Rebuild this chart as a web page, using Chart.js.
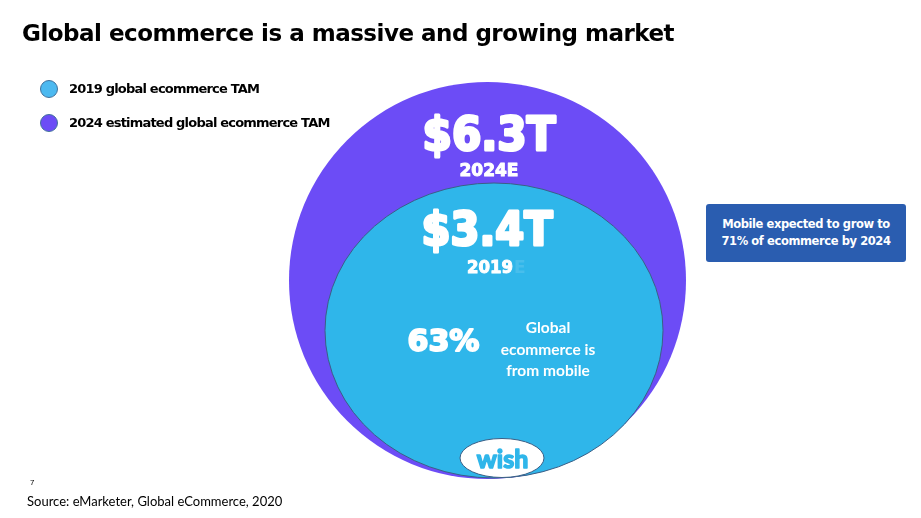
<!DOCTYPE html>
<html>
<head>
<meta charset="utf-8">
<script src="https://cdn.jsdelivr.net/npm/chart.js@4.4.0/dist/chart.umd.min.js"></script>
<style>
    body { margin: 0; background: #fff; }
    #wrap { position: relative; width: 921px; height: 518px; overflow: hidden; font-family: 'DejaVu Sans', sans-serif; }
    #chart { position: absolute; left: 0; top: 0; }
    .title { position: absolute; left: 22px; top: 20px; font-size: 23px; font-weight: bold; color: #000; white-space: nowrap; letter-spacing: -0.5px; }
    .legend { position: absolute; left: 40px; top: 80px; }
    .legend-item { position: relative; height: 34px; font-size: 13px; font-weight: bold; white-space: nowrap; letter-spacing: -0.8px; }
    .legend-item .dot { position: absolute; left: 0; top: 0; width: 16px; height: 16px; border-radius: 50%; border: 1px solid #41719c; }
    .legend-item span.txt { position: absolute; left: 29px; top: 0; line-height: 18px; }
    .callout { position: absolute; left: 706px; top: 204px; width: 200px; height: 58px; background: #2a5db0; border-radius: 3px; color: #fff; font-size: 11.5px; font-weight: bold; text-align: center; line-height: 17px; letter-spacing: -0.4px; }
    .callout div { padding-top: 12px; }
    .pagenum { position: absolute; left: 30px; top: 478px; font-size: 8px; font-family: 'Liberation Sans', sans-serif; }
    .source { position: absolute; left: 27px; top: 493px; font-size: 13px; font-family: 'Lato', sans-serif; white-space: nowrap; }
</style>
</head>
<body>
<div id="wrap">
    <canvas id="chart" width="921" height="518"></canvas>
    <div class="title">Global ecommerce is a massive and growing market</div>
    <div class="legend" id="legend"></div>
    <div class="callout"><div id="callout-text"></div></div>
    <div class="pagenum">7</div>
    <div class="source">Source: eMarketer, Global eCommerce, 2020</div>
</div>
<script>
// data
const years = ['2019', '2024E'];
const tamTrillions = [3.4, 6.3];
const seriesNames = ['2019 global ecommerce TAM', '2024 estimated global ecommerce TAM'];
const seriesColors = ['#2fb6ea', '#6c4cf6'];
const mobileShareNow = 63;
const mobileShare2024 = 71;

// layout in page pixels (the scales below map 1 unit to 1 px)
const circleLayout = [
    { x: 494, y: 330.5, rx: 169, ry: 147.5, valueDy: 62, yearDy: 90 },
    { x: 487.5, y: 280.5, rx: 198.5, ry: 198.5, valueDy: 68, yearDy: 94 }
];
const labelX = 488;

// inner shape is a slightly squashed circle, so draw it as an image point style
function ellipseStyle(rx, ry, fill, stroke) {
    const c = document.createElement('canvas');
    c.width = Math.ceil(rx * 2 + 2);
    c.height = Math.ceil(ry * 2 + 2);
    const g = c.getContext('2d');
    g.beginPath();
    g.ellipse(c.width / 2, c.height / 2, rx, ry, 0, 0, Math.PI * 2);
    g.fillStyle = fill;
    g.fill();
    g.lineWidth = 1;
    g.strokeStyle = stroke;
    g.stroke();
    return c;
}

// legend
const legendEl = document.getElementById('legend');
seriesNames.forEach((name, i) => {
    const color = i === 0 ? '#4cb9f0' : seriesColors[i];
    legendEl.innerHTML += `<div class="legend-item"><div class="dot" style="background:${color}"></div><span class="txt">${name}</span></div>`;
});
document.getElementById('callout-text').innerHTML =
    `Mobile expected to grow to<br>${mobileShare2024}% of ecommerce by 2024`;

// heavy white text, stroked to look like a black-weight face
function heavyText(ctx, text, x, y, maxW, weight) {
    ctx.lineWidth = weight;
    ctx.lineJoin = 'round';
    ctx.strokeText(text, x, y, maxW);
    ctx.fillText(text, x, y, maxW);
}

const labelPlugin = {
    id: 'circleLabels',
    afterDatasetsDraw(chart) {
        const ctx = chart.ctx;
        const xs = chart.scales.x, ys = chart.scales.y;
        ctx.save();
        ctx.fillStyle = '#fff';
        ctx.strokeStyle = '#fff';
        ctx.textBaseline = 'alphabetic';

        // outer (2024E)
        const o = circleLayout[1];
        const oTop = ys.getPixelForValue(o.y) - o.ry;
        ctx.textAlign = 'center';
        ctx.font = 'bold 46px "DejaVu Sans"';
        heavyText(ctx, `$${tamTrillions[1]}T`, labelX + 1, oTop + o.valueDy, 133, 3);
        ctx.font = 'bold 17px "DejaVu Sans"';
        heavyText(ctx, years[1], labelX + 1, oTop + o.yearDy, 59, 1);

        // inner (2019)
        const n = circleLayout[0];
        const nTop = ys.getPixelForValue(n.y) - n.ry;
        ctx.font = 'bold 46px "DejaVu Sans"';
        heavyText(ctx, `$${tamTrillions[0]}T`, labelX - 1, nTop + n.valueDy, 131, 3);
        ctx.font = 'bold 17px "DejaVu Sans"';
        ctx.textAlign = 'left';
        heavyText(ctx, years[0], 467, nTop + n.yearDy, 46, 1);
        ctx.fillStyle = 'rgba(255,255,255,0.12)';
        ctx.fillText('E', 514, nTop + n.yearDy);

        // mobile share
        ctx.fillStyle = '#fff';
        ctx.textAlign = 'center';
        ctx.font = 'bold 31px "DejaVu Sans"';
        heavyText(ctx, `${mobileShareNow}%`, 443.5, 351, 72, 2);
        ctx.font = 'bold 15.5px "Lato"';
        ['Global', 'ecommerce is', 'from mobile'].forEach((line, i) => {
            ctx.fillText(line, 548, 333 + i * 21.5);
        });

        // wish badge
        const bx = xs.getPixelForValue(502), by = ys.getPixelForValue(458);
        ctx.beginPath();
        ctx.ellipse(bx, by, 42, 19.5, 0, 0, Math.PI * 2);
        ctx.fillStyle = '#fff';
        ctx.fill();
        ctx.lineWidth = 1;
        ctx.strokeStyle = '#3b5f86';
        ctx.stroke();
        ctx.fillStyle = '#2fb6ea';
        ctx.strokeStyle = '#2fb6ea';
        ctx.font = 'bold 25px "Lato"';
        heavyText(ctx, 'wish', bx + 0.5, by + 10, 60, 1.5);
        ctx.restore();
    }
};

new Chart(document.getElementById('chart'), {
    type: 'bubble',
    data: {
        datasets: [
            {
                label: seriesNames[0],
                data: [{ x: circleLayout[0].x, y: circleLayout[0].y, r: circleLayout[0].rx, v: tamTrillions[0] }],
                pointStyle: ellipseStyle(circleLayout[0].rx, circleLayout[0].ry, seriesColors[0], '#3b5f86'),
                backgroundColor: seriesColors[0],
                clip: false
            },
            {
                label: seriesNames[1],
                data: [{ x: circleLayout[1].x, y: circleLayout[1].y, r: circleLayout[1].rx, v: tamTrillions[1] }],
                backgroundColor: seriesColors[1],
                borderWidth: 0,
                clip: false
            }
        ]
    },
    options: {
        responsive: false,
        animation: false,
        events: [],
        layout: { padding: 0, autoPadding: false },
        scales: {
            x: { type: 'linear', min: 0, max: 921, display: false },
            y: { type: 'linear', min: 0, max: 518, reverse: true, display: false }
        },
        plugins: {
            legend: { display: false },
            tooltip: { enabled: false }
        }
    },
    plugins: [labelPlugin]
});
</script>
</body>
</html>
